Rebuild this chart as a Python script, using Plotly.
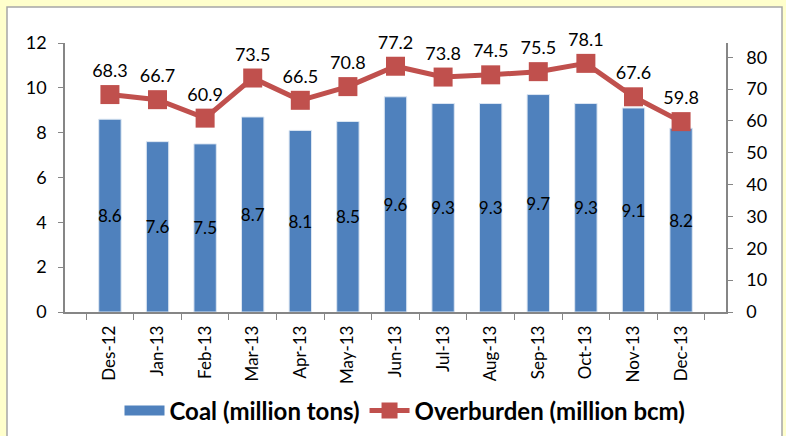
import plotly.graph_objects as go

months = ["Des-12", "Jan-13", "Feb-13", "Mar-13", "Apr-13", "May-13", "Jun-13",
          "Jul-13", "Aug-13", "Sep-13", "Oct-13", "Nov-13", "Dec-13"]
coal = [8.6, 7.6, 7.5, 8.7, 8.1, 8.5, 9.6, 9.3, 9.3, 9.7, 9.3, 9.1, 8.2]
overburden = [68.3, 66.7, 60.9, 73.5, 66.5, 70.8, 77.2, 73.8, 74.5, 75.5, 78.1, 67.6, 59.8]

FONT = "Lato, Calibri, Carlito, sans-serif"
BLUE = "#4F81BD"
RED = "#C0504D"
AXIS = "#868686"

fig = go.Figure()
fig.add_trace(go.Bar(
    x=months, y=coal, name="Coal (million tons)", showlegend=False,
    legendgroup="coal",
    marker=dict(color=BLUE, line=dict(color="#DCE6F2", width=1)),
    text=[f"{v:.1f}" for v in coal], textposition="inside",
    insidetextanchor="middle", textangle=0, constraintext="none",
    textfont=dict(family=FONT, size=17, color="black"),
    yaxis="y",
))
# legend entry for the bars (wide rectangle swatch like the original)
fig.add_trace(go.Scatter(
    x=[None], y=[None], name="Coal (million tons)", legendgroup="coal",
    mode="lines", line=dict(color=BLUE, width=12), yaxis="y",
))
fig.add_trace(go.Scatter(
    x=months, y=overburden, name="Overburden (million bcm)",
    mode="lines+markers+text",
    line=dict(color=RED, width=5),
    marker=dict(symbol="square", size=19, color=RED),
    text=[f"{v:.1f}" for v in overburden], textposition="top center",
    textfont=dict(family=FONT, size=18, color="black"),
    cliponaxis=False,
    yaxis="y2",
))

L, R, T, B = 65, 60, 43, 124
W, H = 786, 436
pw, ph = W - L - R, H - T - B

def px_x(p):
    return (p - L) / pw

def px_y(p):
    return (H - B - p) / ph

fig.update_layout(
    width=W, height=H,
    margin=dict(l=L, r=R, t=T, b=B, pad=0, autoexpand=False),
    paper_bgcolor="#FFFFCC",
    plot_bgcolor="rgba(0,0,0,0)",
    font=dict(family=FONT, size=16, color="black"),
    bargap=0.53,
    showlegend=True,
    legend=dict(orientation="h", x=px_x(405), xanchor="center", y=px_y(411), yanchor="middle",
                font=dict(family=FONT, size=24, color="black", weight="bold"),
                bgcolor="rgba(0,0,0,0)", itemwidth=40, tracegroupgap=0),
    xaxis=dict(
        tickangle=-90, tickfont=dict(size=17), automargin=False, ticklabelstandoff=5,
        showline=True, linecolor=AXIS, linewidth=1.5,
        ticks="outside", ticklen=6, tickcolor=AXIS, tickson="boundaries",
        showgrid=False, zeroline=False,
    ),
    yaxis=dict(
        range=[0, 12], dtick=2, tickfont=dict(size=18), automargin=False,
        ticklabelstandoff=8,
        showline=True, linecolor=AXIS, linewidth=1.5,
        ticks="outside", ticklen=5, tickcolor=AXIS,
        showgrid=False, zeroline=False,
    ),
    yaxis2=dict(
        range=[0, 84.5], tickvals=[0, 10, 20, 30, 40, 50, 60, 70, 80],
        overlaying="y", side="right", tickfont=dict(size=18), automargin=False,
        ticklabelstandoff=10,
        showline=True, linecolor=AXIS, linewidth=1.5,
        ticks="outside", ticklen=5, tickcolor=AXIS,
        showgrid=False, zeroline=False,
    ),
    shapes=[dict(
        type="rect", xref="paper", yref="paper", layer="below",
        x0=px_x(7), x1=px_x(782), y0=px_y(445), y1=px_y(7),
        fillcolor="white", line=dict(color="#A6A6A6", width=1.5),
    )],
)

fig.write_html(
    "out.html",
    config={"displayModeBar": False},
    post_script="document.body.style.margin='0';document.body.style.padding='0';",
)
